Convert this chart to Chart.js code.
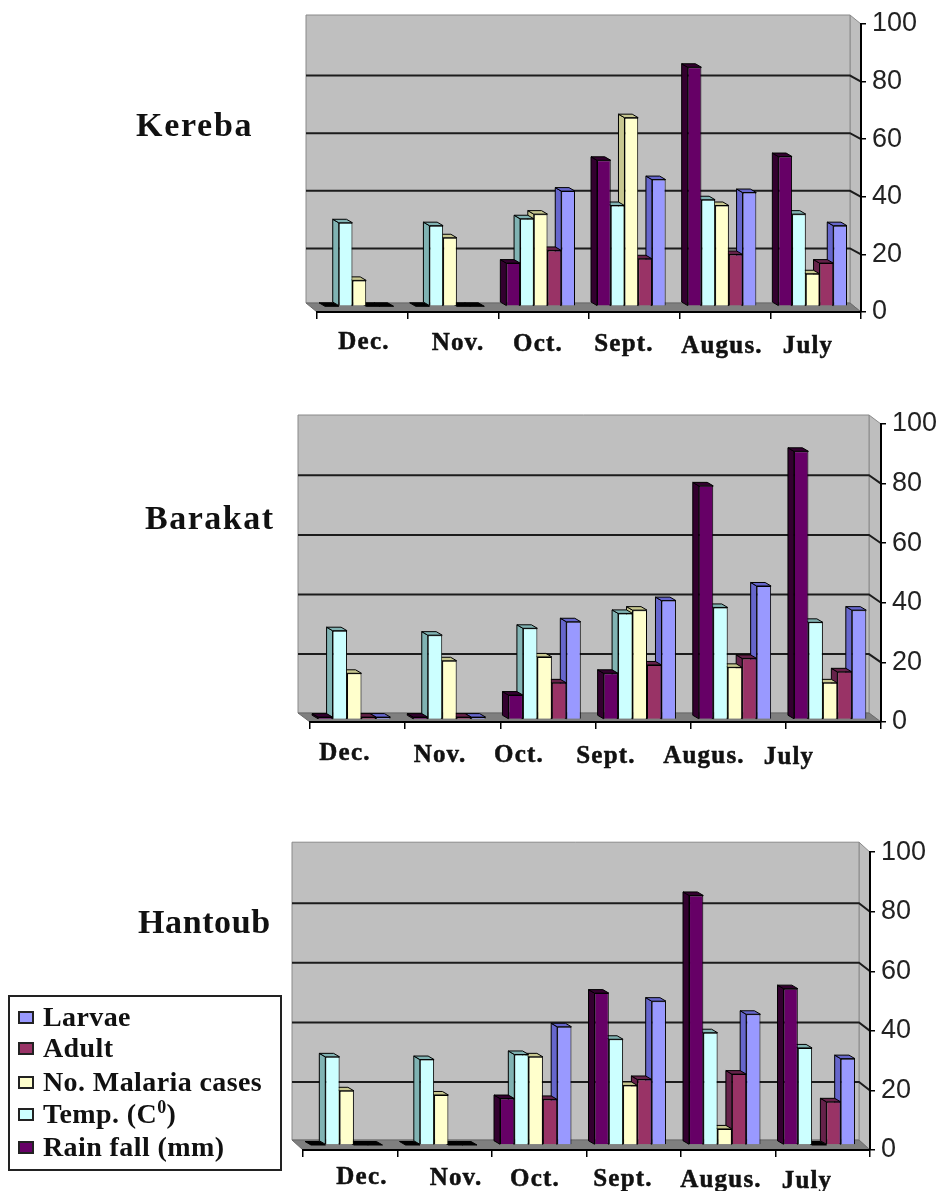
<!DOCTYPE html>
<html><head><meta charset="utf-8">
<script src="https://cdn.jsdelivr.net/npm/chart.js@4"></script>
<style>
html,body{margin:0;padding:0;background:#fff;width:939px;height:1191px;overflow:hidden}
canvas{position:absolute;left:0;filter:blur(.5px)}
.site{position:absolute;font:bold 34px "Liberation Serif",serif;color:#111;line-height:1;white-space:nowrap;transform:translateY(-50%);filter:blur(.4px)}
#legend{position:absolute;left:8px;top:995px;width:270px;height:172px;border:2px solid #222;background:#fff;font:bold 28px "Liberation Serif",serif;letter-spacing:.4px;color:#111;filter:blur(.4px)}
#legend div{position:absolute;left:33px;white-space:nowrap;line-height:1;transform:translateY(-50%)}
#legend i{position:absolute;left:-25px;top:50%;margin-top:-6px;width:12px;height:9px;border:2px solid #222}
#legend sup{font-size:18px;line-height:0}
</style></head><body>
<div class="site" style="left:136px;top:125px;letter-spacing:1.7px">Kereba</div>
<div class="site" style="left:145px;top:518px;letter-spacing:1.5px">Barakat</div>
<div class="site" style="left:138px;top:922px;letter-spacing:.6px">Hantoub</div>
<div id="legend"></div>
<canvas id="c1"></canvas><canvas id="c2"></canvas><canvas id="c3"></canvas>
<script>
const categories = ["Dec.","Nov.","Oct.","Sept.","Augus.","July"];
const yTicks = [0,20,40,60,80,100];
const seriesNames = ["Rain fall (mm)","Temp. (C0)","No. Malaria cases","Adult","Larvae"];
const seriesColors = ["#660066","#ccffff","#ffffcc","#993366","#9999ff"];
const seriesShades = ["#33002f","#80b3b3","#c8c890","#66224a","#6666cc"];

const kerebaRain    = [0,0,15,50.7,83,52];
const kerebaTemp    = [29,28,30.4,35,37,32];
const kerebaMalaria = [9,23.8,32,65.5,35,11.3];
const kerebaAdult   = [0,0,19.4,16.5,18,15];
const kerebaLarvae  = [0,0,40,44,39.5,28];

const barakatRain    = [0.8,0.8,8.2,15.5,78.4,90];
const barakatTemp    = [29.8,28.3,30.6,35.6,37.6,32.6];
const barakatMalaria = [15.5,19.7,21,36.7,17.5,12.3];
const barakatAdult   = [0.8,0.8,12.3,18.3,20.5,16];
const barakatLarvae  = [0.8,0.8,32.8,39.9,44.8,36.7];

const hantoubRain    = [0,0,15.6,51,83.8,52.5];
const hantoubTemp    = [29.6,28.7,30.4,35.5,37.7,32.6];
const hantoubMalaria = [18.2,16.8,29.6,20,5.4,0];
const hantoubAdult   = [0,0,15.3,22,23.8,14.5];
const hantoubLarvae  = [0,0,39.7,48.3,43.9,29];

const CW = 939, XAH = 48, BARD = 6, BARDY = 3.5;
const layouts = [
 {id:"c1",top:0,  h:370,l:317,r:861,t:24, b:312,dx:11,dy:9, gdy:6,  ox:-3,oy:-5.7,pct:.757,
  lx:[364,458,538,624,722,808],ly:[343,344,345,345,347,347],
  data:[kerebaRain,kerebaTemp,kerebaMalaria,kerebaAdult,kerebaLarvae]},
 {id:"c2",top:395,h:385,l:310,r:881,t:424,b:722,dx:12,dy:9, gdy:8.3,ox:-3.3,oy:-2.5,pct:.76,
  lx:[345,440,519,606,704,789],ly:[754,756,756,757,757,758],
  data:[barakatRain,barakatTemp,barakatMalaria,barakatAdult,barakatLarvae]},
 {id:"c3",top:830,h:361,l:303,r:870,t:852,b:1150,dx:11,dy:10,gdy:8.5,ox:-3.5,oy:-5,  pct:.756,
  lx:[362,456,535,623,721,807],ly:[1178,1179,1180,1180,1181,1182],
  data:[hantoubRain,hantoubTemp,hantoubMalaria,hantoubAdult,hantoubLarvae]}
];

function poly(ctx,pts,fill,stroke){
  ctx.beginPath();pts.forEach((p,i)=>i?ctx.lineTo(p[0],p[1]):ctx.moveTo(p[0],p[1]));ctx.closePath();
  ctx.fillStyle=fill;ctx.fill();
  if(stroke){ctx.strokeStyle=stroke;ctx.lineWidth=1;ctx.stroke();}
}
const box3d = {
  id:"box3d",
  beforeDraw(chart,a,o){
    const {ctx,chartArea:A,scales:{y}}=chart, g=o.g;
    const wl=A.left-g.dx, wr=A.right-g.dx, wt=A.top-g.dy, wb=A.bottom-g.dy;
    poly(ctx,[[wr,wt],[A.right,A.top],[A.right,A.bottom],[wr,wb]],"#bebebe","#8a8a8a");
    poly(ctx,[[wl,wt],[wr,wt],[wr,wb],[wl,wb]],"#bfbfbf","#8a8a8a");
    poly(ctx,[[wl,wb],[wr,wb],[A.right,A.bottom],[A.left,A.bottom]],"#7f7f7f","#6a6a6a");
    ctx.save();ctx.strokeStyle="#1c1c1c";ctx.lineWidth=2;
    yTicks.filter(v=>v>0&&v<100).forEach(v=>{
      const py=y.getPixelForValue(v);
      ctx.beginPath();ctx.moveTo(wl,py-g.gdy);ctx.lineTo(wr,py-g.gdy);ctx.lineTo(A.right,py);ctx.stroke();
    });
    ctx.restore();
    const x=chart.scales.x;
    x.getLabelItems().forEach((it,i)=>{
      if(it.__placed)return;it.__placed=true;
      it.options.translation=[g.lx[i],g.ly[i]-g.top];
      it.options.textBaseline="middle";it.options.textAlign="center";it.textOffset=0;
    });
    if(!x.__spaced){
      x.__spaced=true;const draw=x.drawLabels;
      x.drawLabels=function(area){ctx.letterSpacing="1.2px";draw.call(x,area);ctx.letterSpacing="0px";};
    }
  },
  beforeDatasetDraw(chart,args,o){
    const ctx=chart.ctx,g=o.g,shade=seriesShades[args.index];
    ctx.save();ctx.translate(g.ox,g.oy);
    args.meta.data.forEach((el,i)=>{
      const v=chart.data.datasets[args.index].data[i];
      const x0=el.x-el.width/2,x1=el.x+el.width/2;
      if(v>0) poly(ctx,[[x0,el.y],[x0-BARD,el.y-BARDY],[x0-BARD,el.base-BARDY],[x0,el.base]],shade,"#000");
      poly(ctx,[[x0,el.y],[x1,el.y],[x1-BARD,el.y-BARDY],[x0-BARD,el.y-BARDY]],v>0?shade:"#000","#000");
    });
  },
  afterDatasetDraw(chart){chart.ctx.restore();}
};

layouts.forEach(g=>{
  const cv=document.getElementById(g.id);
  cv.style.top=g.top+"px";cv.style.width=CW+"px";cv.style.height=g.h+"px";cv.width=CW;cv.height=g.h;
  new Chart(cv,{
    type:"bar",
    data:{labels:categories,datasets:g.data.map((d,i)=>({
      label:seriesNames[i],data:d,backgroundColor:seriesColors[i],borderColor:"#000",borderWidth:1,
      categoryPercentage:g.pct,barPercentage:1,clip:false}))},
    plugins:[box3d],
    options:{
      responsive:false,animation:false,events:[],
      layout:{autoPadding:false,padding:{left:g.l,right:0,top:g.t-g.top,bottom:g.h-(g.b-g.top)-XAH}},
      plugins:{legend:{display:false},title:{display:false},tooltip:{enabled:false},box3d:{g}},
      scales:{
        x:{offset:true,
           grid:{offset:true,drawOnChartArea:false,drawTicks:true,tickLength:7,color:"#000",lineWidth:1.5},
           border:{color:"#000",width:2},
           ticks:{maxRotation:0,autoSkip:false,color:"#111",textStrokeColor:"#111",textStrokeWidth:.5,
                  font:{family:"Liberation Serif",size:25,weight:"bold"}},
           afterFit(s){s.height=XAH;}},
        y:{position:"right",min:0,max:100,
           afterBuildTicks(s){s.ticks=yTicks.map(v=>({value:v}));},
           grid:{drawOnChartArea:false,drawTicks:true,tickLength:5,color:"#000",lineWidth:1.5},
           border:{color:"#000",width:2},
           ticks:{padding:6,color:"#222",font:{family:"Liberation Sans",size:27}},
           afterFit(s){s.width=CW-g.r;}}
      }
    }
  });
});

const legendRows=[[4,22],[3,53],[2,87],[1,119],[0,152]];
const lg=document.getElementById("legend");
legendRows.forEach(([s,y])=>{
  const d=document.createElement("div");d.style.top=(y-2)+"px";
  const name=seriesNames[s]==="Temp. (C0)"?"Temp. (C<sup>0</sup>)":seriesNames[s];
  d.innerHTML='<i style="background:'+seriesColors[s]+'"></i>'+name;
  lg.appendChild(d);
});
</script>
</body></html>
